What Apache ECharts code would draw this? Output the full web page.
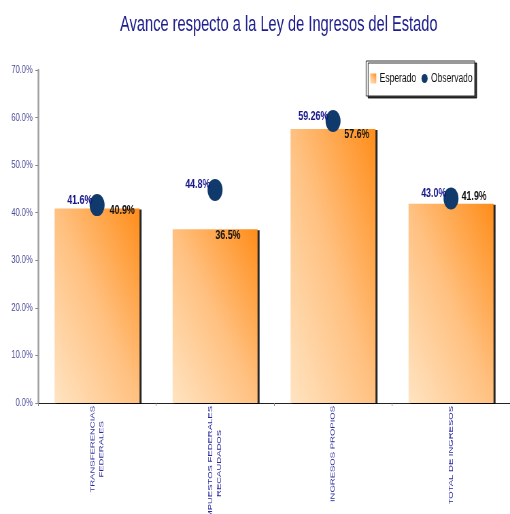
<!DOCTYPE html>
<html>
<head>
<meta charset="utf-8">
<script src="https://cdn.jsdelivr.net/npm/echarts@6/dist/echarts.min.js"></script>
<style>
  html, body { margin: 0; padding: 0; background: #fff; overflow: hidden; }
  #wrap { width: 510px; height: 514px; overflow: hidden; }
  /* The chart is laid out wide and then condensed horizontally */
  #chart { width: 750px; height: 514px; transform: scaleX(0.68); transform-origin: 0 0; }
</style>
</head>
<body>
<div id="wrap"><div id="chart"></div></div>
<script>
// Categories and values (percent of annual revenue law reached)
const categories = [
  'TRANSFERENCIAS\nFEDERALES',
  'IMPUESTOS FEDERALES\nRECAUDADOS',
  'INGRESOS PROPIOS',
  'TOTAL DE INGRESOS'
];
const esperado = [40.9, 36.5, 57.6, 41.9];
const observado = [41.6, 44.8, 59.26, 43.0];
const yTicks = { min: 0, max: 70, interval: 10 };

// Label nudges for the "Esperado" value labels, in pixels [x, y]
const barLabelShift = [[37, -5], [19, 0], [35, -1], [34, -14]];

const FONT = '"Liberation Sans", Arial, sans-serif';
const navy = '#1c1c8c';
const BAR_GAP = 0.28;

const fmt = v => (Math.abs(Math.round(v * 10) - v * 10) < 1e-9 ? v.toFixed(1) : String(v)) + '%';

const stops = [
  { offset: 0, color: '#ffe4c2' },
  { offset: 0.5, color: '#ffc181' },
  { offset: 1, color: '#ff8d1a' }
];

const chart = echarts.init(document.getElementById('chart'), null, { renderer: 'canvas' });

// Each category label is one block; its lines are centred within it
const richName = categories.map(c => c.split('\n').map(l => '{c|' + l + '}').join('\n'));

chart.setOption({
  backgroundColor: '#ffffff',
  animation: false,
  title: {
    text: 'Avance respecto a la Ley de Ingresos del Estado',
    left: 405,
    textAlign: 'center',
    top: 9,
    textStyle: { fontFamily: FONT, fontSize: 21.5, fontWeight: 'normal', color: navy }
  },
  legend: {
    right: 52,
    top: 61,
    orient: 'horizontal',
    backgroundColor: '#ffffff',
    borderColor: '#333',
    borderWidth: 1,
    padding: [11, 3, 11, 6],
    itemGap: 8,
    itemWidth: 9,
    itemHeight: 10,
    shadowColor: 'rgba(0,0,0,0.8)',
    shadowOffsetX: 3,
    shadowOffsetY: 2,
    shadowBlur: 0,
    textStyle: { fontFamily: FONT, fontSize: 12.5, color: '#111', padding: [0, 0, 0, 0] },
    data: [
      { name: 'Esperado', icon: 'rect' },
      { name: 'Observado', icon: 'circle' }
    ]
  },
  grid: { left: 56, right: 0, top: 70, bottom: 111, containLabel: false, outerBoundsMode: 'none' },
  xAxis: {
    type: 'category',
    data: categories,
    axisLine: { lineStyle: { color: '#222', width: 1 } },
    axisTick: { show: true, length: 3, lineStyle: { color: '#888' } },
    axisLabel: {
      rotate: 90,
      margin: 3,
      interval: 0,
      formatter: (v, i) => richName[i],
      fontFamily: FONT,
      fontSize: 9.5,
      color: '#2a2a9c',
      lineHeight: 13,
      rich: {
        c: { align: 'center', fontSize: 9.5, lineHeight: 13, color: '#2a2a9c', fontFamily: FONT }
      }
    },
    splitLine: { show: false }
  },
  yAxis: {
    type: 'value',
    min: yTicks.min,
    max: yTicks.max,
    interval: yTicks.interval,
    axisLine: { show: true, lineStyle: { color: '#a0a0a0', width: 2.5 } },
    axisTick: { show: true, length: 4, lineStyle: { color: '#888' } },
    axisLabel: {
      margin: 8,
      formatter: v => v.toFixed(1) + '%',
      fontFamily: FONT,
      fontSize: 11,
      color: '#4a4a9c'
    },
    splitLine: { show: false }
  },
  series: [
    {
      name: 'Esperado',
      type: 'bar',
      barCategoryGap: (BAR_GAP * 100) + '%',
      data: esperado.map((v, i) => ({
        value: v,
        label: { offset: barLabelShift[i] }
      })),
      itemStyle: {
        color: new echarts.graphic.LinearGradient(0, 1, 1, 0, stops),
        shadowColor: 'rgba(0,0,0,0.85)',
        shadowOffsetX: 3,
        shadowOffsetY: 1,
        shadowBlur: 0
      },
      label: {
        show: true,
        position: 'insideTop',
        distance: 0,
        formatter: p => fmt(p.value),
        fontFamily: FONT,
        fontSize: 13,
        fontWeight: 'bold',
        color: '#111'
      },
      z: 2
    },
    {
      name: 'Observado',
      type: 'scatter',
      data: observado,
      symbol: 'circle',
      symbolSize: 22,
      itemStyle: { color: '#0f3a6b', opacity: 1 },
      label: {
        show: true,
        position: 'left',
        distance: -4,
        offset: [0, -5],
        formatter: p => fmt(p.value),
        fontFamily: FONT,
        fontSize: 13,
        fontWeight: 'bold',
        color: '#16168a'
      },
      z: 3
    }
  ]
});

// Diagonal shading per bar: light at the lower-left corner, deep orange at the
// upper-right, with equal tones along the other diagonal of each bar.
const base = chart.convertToPixel({ gridIndex: 0 }, [0, 0]);
const next = chart.convertToPixel({ gridIndex: 0 }, [1, 0]);
const w = (next[0] - base[0]) * (1 - BAR_GAP);
chart.setOption({
  series: [{
    name: 'Esperado',
    data: esperado.map((v, i) => {
      const top = chart.convertToPixel({ gridIndex: 0 }, [i, v]);
      const h = base[1] - top[1];
      const k = 2 * w * h / (h * h + w * w);
      return {
        value: v,
        label: { offset: barLabelShift[i] },
        itemStyle: {
          color: new echarts.graphic.LinearGradient(0, 1, h * k / w, 1 - w * k / h, stops)
        }
      };
    })
  }]
});
</script>
</body>
</html>
